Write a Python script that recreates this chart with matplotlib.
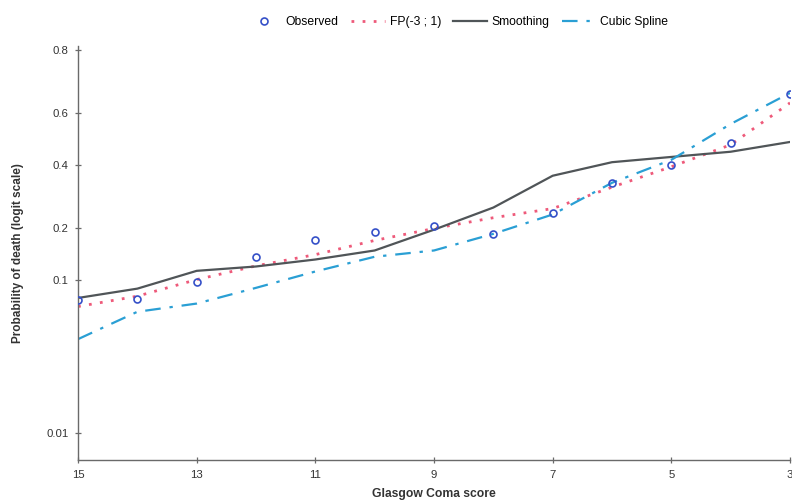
import numpy as np
import matplotlib
matplotlib.use("Agg")
import matplotlib.pyplot as plt

# Escore de Glasgow (eixo invertido, 15 -> 3)
gcs = [15, 14, 13, 12, 11, 10, 9, 8, 7, 6, 5, 4, 3]

# Probabilidades
observed = [0.075, 0.076, 0.096, 0.136, 0.170, 0.190, 0.205, 0.185, 0.240, 0.335, 0.400, 0.485, 0.670]
fp_model = [0.068, 0.079, 0.100, 0.121, 0.141, 0.170, 0.198, 0.226, 0.252, 0.320, 0.393, 0.477, 0.637]
smoothing = [0.077, 0.088, 0.113, 0.120, 0.132, 0.149, 0.195, 0.255, 0.360, 0.410, 0.430, 0.450, 0.488]
cubic_spline = [0.042, 0.063, 0.071, 0.089, 0.112, 0.137, 0.149, 0.185, 0.235, 0.335, 0.419, 0.558, 0.672]

x_ticks = [15, 13, 11, 9, 7, 5, 3]
y_ticks = [0.01, 0.1, 0.2, 0.4, 0.6, 0.8]
y_ticklabels = ["0.01", "0.1", "0.2", "0.4", "0.6", "0.8"]

plt.rcParams["font.family"] = ["Liberation Sans", "DejaVu Sans"]

fig = plt.figure(figsize=(7.92, 5.03), dpi=100)
ax = fig.add_axes([0.0985, 0.0855, 0.899, 0.823])

ax.plot(gcs, observed, linestyle="none", marker="o", markersize=5,
        markerfacecolor="none", markeredgecolor="#3550c8", markeredgewidth=1.2,
        label="Observed", zorder=5)
ax.plot(gcs, fp_model, linestyle=(0, (1, 3)), color="#ee5a7a", linewidth=2.0,
        label="FP(-3 ; 1)")
ax.plot(gcs, smoothing, linestyle="-", color="#505558", linewidth=1.6,
        label="Smoothing")
ax.plot(gcs, cubic_spline, linestyle=(0, (7, 4, 1.5, 4)), color="#2a9fd4", linewidth=1.6,
        label="Cubic Spline")

ax.set_yscale("logit")
ax.set_ylim(0.0066, 0.81)
ax.set_xlim(15, 3)
ax.set_xticks(x_ticks)
ax.set_xticklabels([str(v) for v in x_ticks])
ax.set_yticks(y_ticks)
ax.set_yticklabels(y_ticklabels)
ax.yaxis.set_minor_locator(matplotlib.ticker.NullLocator())
ax.yaxis.set_minor_formatter(matplotlib.ticker.NullFormatter())

for side in ["top", "right"]:
    ax.spines[side].set_visible(False)
for side in ["left", "bottom"]:
    ax.spines[side].set_color("#6a6a6a")
    ax.spines[side].set_linewidth(1.0)

ax.tick_params(axis="both", direction="inout", length=4, width=0.9, color="#6a6a6a",
               labelsize=8.2, labelcolor="#333333")
ax.tick_params(axis="x", pad=5)
ax.tick_params(axis="y", pad=5)

ax.set_xlabel("Glasgow Coma score", fontsize=8.7, fontweight="bold", color="#333333", labelpad=6)
ax.set_ylabel("Probability of death (logit scale)", fontsize=8.5, fontweight="bold",
              color="#333333", labelpad=16)

fig.legend(loc="upper center", bbox_to_anchor=(0.578, 0.99), ncol=4, frameon=False,
           fontsize=8.7, handlelength=2.8, columnspacing=1.0, handletextpad=0.4)

fig.savefig("out.png", dpi=100)
